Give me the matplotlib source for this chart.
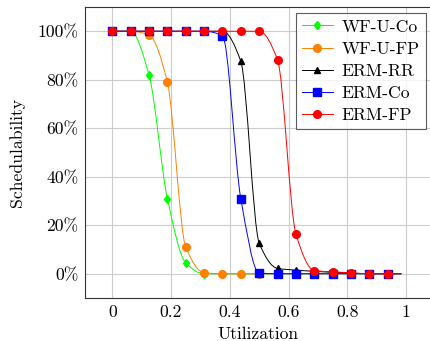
import numpy as np
import matplotlib
matplotlib.use("Agg")
import matplotlib.pyplot as plt
from matplotlib.path import Path
from matplotlib.patches import PathPatch
from matplotlib.lines import Line2D

plt.rcParams['font.family'] = ['cmr10', 'DejaVu Serif']
plt.rcParams['axes.unicode_minus'] = False

# Utilization values (markers every 1/16, line ends at 63/64)
utilization = [0, 0.0625, 0.125, 0.1875, 0.25, 0.3125, 0.375, 0.4375,
               0.5, 0.5625, 0.625, 0.6875, 0.75, 0.8125, 0.875, 0.9375, 0.984]

wf_u_co = [1, 1, 0.82, 0.31, 0.045, 0, 0, 0, 0, 0, 0, 0, 0, 0, 0, 0, 0]
wf_u_fp = [1, 1, 0.985, 0.79, 0.11, 0.004, 0, 0, 0, 0, 0, 0, 0, 0, 0, 0, 0]
erm_rr = [1, 1, 1, 1, 1, 1, 1, 0.876, 0.127, 0.022, 0.015, 0.01, 0.006, 0.003, 0, 0, 0]
erm_co = [1, 1, 1, 1, 1, 1, 0.982, 0.31, 0.003, 0, 0, 0, 0, 0, 0, 0, 0]
erm_fp = [1, 1, 1, 1, 1, 1, 1, 1, 1, 0.882, 0.165, 0.013, 0.008, 0.004, 0, 0, 0]

series_labels = ["WF-U-Co", "WF-U-FP", "ERM-RR", "ERM-Co", "ERM-FP"]
x_ticks = [0, 0.2, 0.4, 0.6, 0.8, 1]
x_tick_labels = ["0", "0.2", "0.4", "0.6", "0.8", "1"]
y_ticks = [0, 0.2, 0.4, 0.6, 0.8, 1.0]
y_tick_labels = ["0%", "20%", "40%", "60%", "80%", "100%"]

styles = [
    dict(color="#00ff00", marker="d", ms=4.5),
    dict(color="#ff8000", marker="o", ms=5.5),
    dict(color="black", marker="^", ms=5.0),
    dict(color="#0000ff", marker="s", ms=5.3),
    dict(color="#ff0000", marker="o", ms=5.5),
]

def smooth_path(xs, ys):
    """Monotone cubic Bezier rendering through the data points."""
    x = np.asarray(xs, float)
    y = np.asarray(ys, float)
    n = len(x)
    h = np.diff(x)
    d = np.diff(y) / h
    m = np.zeros(n)
    m[0] = d[0]
    m[-1] = d[-1]
    for i in range(1, n - 1):
        if d[i - 1] * d[i] <= 0:
            m[i] = 0.0
        else:
            w1 = 2 * h[i] + h[i - 1]
            w2 = h[i] + 2 * h[i - 1]
            m[i] = (w1 + w2) / (w1 / d[i - 1] + w2 / d[i])
    verts = [(x[0], y[0])]
    codes = [Path.MOVETO]
    for i in range(n - 1):
        verts += [(x[i] + h[i] / 3, y[i] + m[i] * h[i] / 3),
                  (x[i + 1] - h[i] / 3, y[i + 1] - m[i + 1] * h[i] / 3),
                  (x[i + 1], y[i + 1])]
        codes += [Path.CURVE4] * 3
    return Path(verts, codes)

W, H = 431, 341
fig = plt.figure(figsize=(W / 100, H / 100), dpi=100)
ax = fig.add_axes([85 / W, (H - 298) / H, (432 - 85) / W, (298 - 7) / H])

data = [wf_u_co, wf_u_fp, erm_rr, erm_co, erm_fp]
handles = []
for idx, (ys, st, lab) in enumerate(zip(data, styles, series_labels)):
    z = 3 + idx * 0.1
    patch = PathPatch(smooth_path(utilization, ys), facecolor="none",
                      edgecolor=st["color"], lw=0.7, zorder=z,
                      transform=ax.transData)
    ax.add_patch(patch)
    ax.plot(utilization[:16], ys[:16], ls="none", marker=st["marker"],
            ms=st["ms"], color=st["color"], mec=st["color"], zorder=z + 0.05)
    handles.append(Line2D([], [], color=st["color"], lw=0.7,
                          marker=st["marker"], ms=st["ms"], mec=st["color"]))

ax.set_xlim(-0.093, 1.0885)
ax.set_ylim(-0.1, 1.1)
ax.set_xticks(x_ticks)
ax.set_xticklabels(x_tick_labels)
ax.set_yticks(y_ticks)
ax.set_yticklabels(y_tick_labels)
ax.tick_params(direction="in", length=0, labelsize=12.7)
ax.tick_params(axis="y", pad=4.5)
ax.tick_params(axis="x", pad=4.5)
ax.grid(True, color="#cccccc", lw=0.8)
ax.set_axisbelow(True)
for s in ax.spines.values():
    s.set_color("#333333")
    s.set_linewidth(0.8)

ax.set_xlabel("Utilization", fontsize=12.7, labelpad=5)
ax.set_ylabel("Schedulability", fontsize=12.7, labelpad=9)

leg = ax.legend(handles, series_labels, loc="upper right",
                bbox_to_anchor=((426 - 85) / 347, 0.979), borderaxespad=0,
                fontsize=12.7, handlelength=1.75, labelspacing=0.38,
                frameon=True, fancybox=False, edgecolor="#333333",
                borderpad=0.35, handletextpad=0.5)
leg.get_frame().set_linewidth(0.8)
leg.set_zorder(10)

fig.savefig("out.png", dpi=100)
